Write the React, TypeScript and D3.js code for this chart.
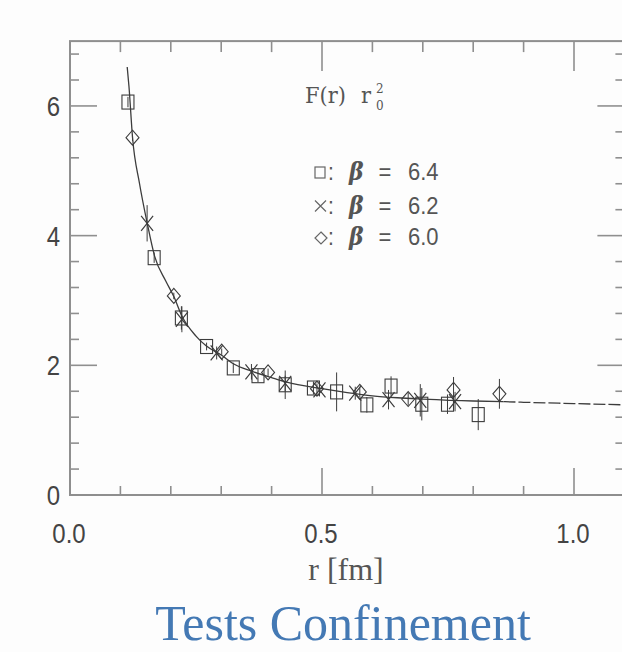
import React from 'react';
import * as d3 from 'd3';

const W = 622;
const H = 652;

// beta = 6.4 (squares)
const sqR = [0.115, 0.167, 0.221, 0.271, 0.324, 0.373, 0.427, 0.483, 0.529, 0.589, 0.637, 0.698, 0.749, 0.81];
const sqF = [6.06, 3.66, 2.73, 2.29, 1.96, 1.84, 1.7, 1.65, 1.59, 1.39, 1.68, 1.4, 1.4, 1.24];
const sqE = [0.08, 0.08, 0.18, 0.06, 0.08, 0.1, 0.22, 0.1, 0.3, 0.12, 0.15, 0.25, 0.15, 0.24];

// beta = 6.2 (crosses)
const crR = [0.153, 0.222, 0.291, 0.36, 0.427, 0.495, 0.566, 0.632, 0.695, 0.764];
const crF = [4.19, 2.71, 2.19, 1.9, 1.72, 1.62, 1.57, 1.47, 1.46, 1.44];
const crE = [0.28, 0.2, 0.1, 0.12, 0.12, 0.1, 0.1, 0.15, 0.25, 0.15];

// beta = 6.0 (diamonds)
const diR = [0.124, 0.206, 0.301, 0.393, 0.49, 0.575, 0.671, 0.761, 0.852];
const diF = [5.51, 3.07, 2.21, 1.89, 1.64, 1.59, 1.48, 1.62, 1.56];
const diE = [0.05, 0.05, 0.05, 0.06, 0.08, 0.08, 0.1, 0.2, 0.23];

// fitted curve
const curveR = [0.1135, 0.117, 0.124, 0.138, 0.153, 0.168, 0.19, 0.206, 0.222, 0.25, 0.27, 0.3, 0.325, 0.36, 0.4, 0.43, 0.5, 0.55, 0.6, 0.65, 0.7, 0.8, 0.86, 0.9, 1.0, 1.1];
const curveF = [6.6, 6.3, 5.52, 4.8, 4.2, 3.68, 3.3, 3.06, 2.76, 2.45, 2.3, 2.16, 2.02, 1.91, 1.81, 1.74, 1.64, 1.58, 1.53, 1.5, 1.48, 1.45, 1.44, 1.43, 1.41, 1.39];

const xMajor = [0, 0.5, 1.0];
const xLabels = ['0.0', '0.5', '1.0'];
const xMinor = [0.1, 0.2, 0.3, 0.4, 0.6, 0.7, 0.8, 0.9, 1.1];
const yMajor = [0, 2, 4, 6];
const yLabels = ['0', '2', '4', '6'];
const yMinor = [0.4, 0.8, 1.2, 1.6, 2.4, 2.8, 3.2, 3.6, 4.4, 4.8, 5.2, 5.6, 6.4, 6.8];

const legendSyms = ['square', 'cross', 'diamond'];
const legendVals = ['6.4', '6.2', '6.0'];

const x = d3.scaleLinear().domain([0, 1.1]).range([70, 624.4]);
const y = d3.scaleLinear().domain([0, 7]).range([495, 41.1]);

const FRAME = '#8f8f8f';
const INK = '#3c3c3c';

function Marker({ kind, cx, cy }: { kind: string; cx: number; cy: number }) {
  if (kind === 'square') {
    return <rect x={cx - 6} y={cy - 7} width={12} height={14} fill="none" stroke={INK} strokeWidth={1.1} />;
  }
  if (kind === 'diamond') {
    return (
      <path
        d={`M${cx},${cy - 7.5}L${cx + 6.5},${cy}L${cx},${cy + 7.5}L${cx - 6.5},${cy}Z`}
        fill="none"
        stroke={INK}
        strokeWidth={1.1}
      />
    );
  }
  return (
    <path
      d={`M${cx - 6},${cy - 7.5}L${cx + 6},${cy + 7.5}M${cx - 6},${cy + 7.5}L${cx + 6},${cy - 7.5}`}
      fill="none"
      stroke={INK}
      strokeWidth={1.2}
    />
  );
}

function Series({ kind, rs, fs, es }: { kind: string; rs: number[]; fs: number[]; es: number[] }) {
  return (
    <g>
      {rs.map((r, i) => (
        <g key={i}>
          <line x1={x(r)} x2={x(r)} y1={y(fs[i] - es[i])} y2={y(fs[i] + es[i])} stroke={INK} strokeWidth={1} />
          <Marker kind={kind} cx={x(r)} cy={y(fs[i])} />
        </g>
      ))}
    </g>
  );
}

export default function App() {
  const pts: [number, number][] = curveR.map((r, i) => [r, curveF[i]]);
  const line = d3
    .line<[number, number]>()
    .x((d) => x(d[0]))
    .y((d) => y(d[1]))
    .curve(d3.curveMonotoneX);
  const solid = pts.filter((d) => d[0] <= 0.86);
  const dashed = pts.filter((d) => d[0] >= 0.86);

  const xL = x(0);
  const xR = x(1.1);
  const yB = y(0);
  const yT = y(7);
  const MAJ = 27;
  const MIN = 9;

  const legendRowY = [173, 206.5, 238];

  return (
    <svg
      width={W}
      height={H}
      viewBox={`0 0 ${W} ${H}`}
      style={{ position: 'absolute', left: 0, top: 0, background: '#fdfdfd' }}
    >
      <rect x={0} y={0} width={W} height={H} fill="#fdfdfd" />
      {/* frame */}
      <rect x={xL} y={yT} width={xR - xL} height={yB - yT} fill="none" stroke={FRAME} strokeWidth={2} />
      {/* x ticks */}
      {xMajor.map((v, i) => (
        <g key={'xM' + i}>
          <line x1={x(v)} x2={x(v)} y1={yB} y2={yB - MAJ} stroke={FRAME} strokeWidth={1.6} />
          <line x1={x(v)} x2={x(v)} y1={yT} y2={yT + MAJ + 3} stroke={FRAME} strokeWidth={1.6} />
        </g>
      ))}
      {xMinor.map((v, i) => (
        <g key={'xm' + i}>
          <line x1={x(v)} x2={x(v)} y1={yB} y2={yB - MIN} stroke={FRAME} strokeWidth={1.6} />
          <line x1={x(v)} x2={x(v)} y1={yT} y2={yT + MIN + 2} stroke={FRAME} strokeWidth={1.6} />
        </g>
      ))}
      {/* y ticks */}
      {yMajor.map((v, i) => (
        <g key={'yM' + i}>
          <line x1={xL} x2={xL + MAJ} y1={y(v)} y2={y(v)} stroke={FRAME} strokeWidth={1.6} />
          <line x1={xR} x2={xR - MAJ} y1={y(v)} y2={y(v)} stroke={FRAME} strokeWidth={1.6} />
        </g>
      ))}
      {yMinor.map((v, i) => (
        <g key={'ym' + i}>
          <line x1={xL} x2={xL + MIN} y1={y(v)} y2={y(v)} stroke={FRAME} strokeWidth={1.6} />
          <line x1={xR} x2={xR - MIN} y1={y(v)} y2={y(v)} stroke={FRAME} strokeWidth={1.6} />
        </g>
      ))}
      {/* tick labels */}
      {yMajor.map((v, i) => (
        <g key={'yl' + i} transform={`translate(60,${y(v)}) scale(1,1.15)`}>
          <text x={0} y={0} dy="0.36em" textAnchor="end" fontFamily="Liberation Sans, Arial, sans-serif" fontSize={24} fill="#444">
            {yLabels[i]}
          </text>
        </g>
      ))}
      {xMajor.map((v, i) => (
        <g key={'xl' + i} transform={`translate(${x(v) - 1},543) scale(1,1.15)`}>
          <text x={0} y={0} textAnchor="middle" fontFamily="Liberation Sans, Arial, sans-serif" fontSize={24} fill="#444">
            {xLabels[i]}
          </text>
        </g>
      ))}
      {/* axis title */}
      <text x={346} y={580} textAnchor="middle" fontFamily="Liberation Serif, Times New Roman, serif" fontSize={32} fill="#555">
        r [fm]
      </text>
      {/* curve */}
      <path d={line(solid) || ''} fill="none" stroke={INK} strokeWidth={1.3} />
      <path d={line(dashed) || ''} fill="none" stroke={INK} strokeWidth={1.3} strokeDasharray="12,3" />
      {/* data */}
      <Series kind="diamond" rs={diR} fs={diF} es={diE} />
      <Series kind="cross" rs={crR} fs={crF} es={crE} />
      <Series kind="square" rs={sqR} fs={sqF} es={sqE} />
      {/* legend title */}
      <g fontFamily="DejaVu Serif, serif" fill="#555">
        <g transform="translate(305,103) scale(1,1.1)">
          <text x={0} y={0} fontSize={21}>F(r)</text>
        </g>
        <g transform="translate(361,103) scale(1,1.1)">
          <text x={0} y={0} fontSize={21}>r</text>
        </g>
        <text x={376} y={93} fontSize={12}>2</text>
        <text x={376} y={110} fontSize={12}>0</text>
      </g>
      {/* legend */}
      {legendSyms.map((s, i) => {
        const cy = legendRowY[i];
        let sym: React.ReactNode;
        if (s === 'square') sym = <rect x={315} y={cy - 6} width={10} height={11} fill="none" stroke="#666" strokeWidth={1.2} />;
        else if (s === 'cross')
          sym = <path d={`M315,${cy - 6}L326,${cy + 5}M315,${cy + 5}L326,${cy - 6}`} stroke="#666" strokeWidth={1.2} fill="none" />;
        else sym = <path d={`M321,${cy - 6}L327,${cy}L321,${cy + 6}L315,${cy}Z`} fill="none" stroke="#666" strokeWidth={1.2} />;
        return (
          <g key={'lg' + i}>
            {sym}
            <g transform={`translate(0,${cy + 7}) scale(1,1.1)`} fontFamily="Liberation Sans, Arial, sans-serif" fill="#555">
              <text x={328} y={0} fontSize={21}>:</text>
              <text x={349} y={0} fontSize={22} fontStyle="italic" fontWeight="bold" fontFamily="DejaVu Serif, serif">
                β
              </text>
              <text x={385} y={0} fontSize={22} textAnchor="middle">=</text>
              <text x={408} y={0} fontSize={22}>{legendVals[i]}</text>
            </g>
          </g>
        );
      })}
      {/* caption */}
      <text x={343} y={640} textAnchor="middle" fontFamily="Liberation Serif, Times New Roman, serif" fontSize={50} fill="#4479b4">
        Tests Confinement
      </text>
    </svg>
  );
}
